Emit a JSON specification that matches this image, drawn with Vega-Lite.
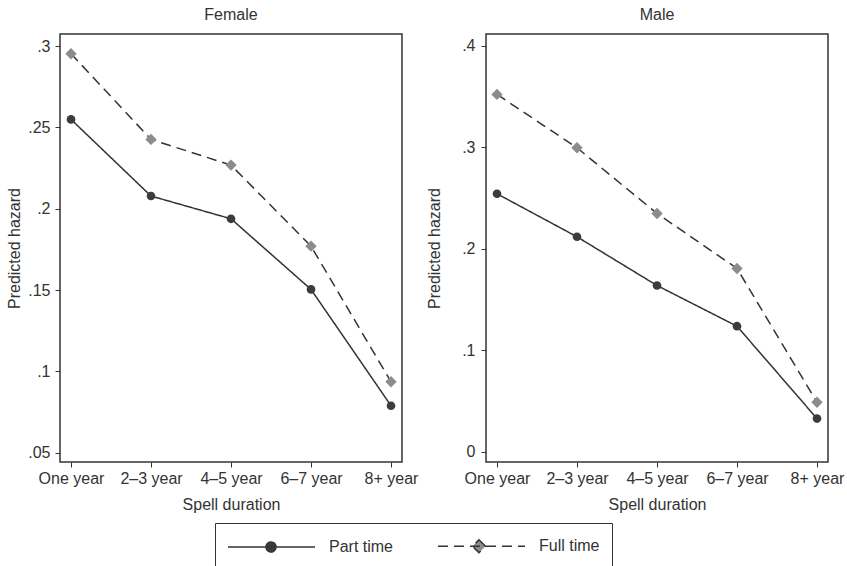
{
  "$schema": "https://vega.github.io/schema/vega-lite/v6.json",
  "padding": {"left": 6, "top": 6, "right": 0, "bottom": 0},
  "background": "white",
  "data": {
    "values": [
      {"sex": "Female", "duration": "One year", "status": "Part time", "hazard": 0.2549},
      {"sex": "Female", "duration": "2–3 year", "status": "Part time", "hazard": 0.2078},
      {"sex": "Female", "duration": "4–5 year", "status": "Part time", "hazard": 0.1938},
      {"sex": "Female", "duration": "6–7 year", "status": "Part time", "hazard": 0.1504},
      {"sex": "Female", "duration": "8+ year", "status": "Part time", "hazard": 0.0789},
      {"sex": "Female", "duration": "One year", "status": "Full time", "hazard": 0.2953},
      {"sex": "Female", "duration": "2–3 year", "status": "Full time", "hazard": 0.2426},
      {"sex": "Female", "duration": "4–5 year", "status": "Full time", "hazard": 0.2268},
      {"sex": "Female", "duration": "6–7 year", "status": "Full time", "hazard": 0.177},
      {"sex": "Female", "duration": "8+ year", "status": "Full time", "hazard": 0.0936},
      {"sex": "Male", "duration": "One year", "status": "Part time", "hazard": 0.2544},
      {"sex": "Male", "duration": "2–3 year", "status": "Part time", "hazard": 0.212},
      {"sex": "Male", "duration": "4–5 year", "status": "Part time", "hazard": 0.164},
      {"sex": "Male", "duration": "6–7 year", "status": "Part time", "hazard": 0.1239},
      {"sex": "Male", "duration": "8+ year", "status": "Part time", "hazard": 0.0329},
      {"sex": "Male", "duration": "One year", "status": "Full time", "hazard": 0.3523},
      {"sex": "Male", "duration": "2–3 year", "status": "Full time", "hazard": 0.2997},
      {"sex": "Male", "duration": "4–5 year", "status": "Full time", "hazard": 0.235},
      {"sex": "Male", "duration": "6–7 year", "status": "Full time", "hazard": 0.1808},
      {"sex": "Male", "duration": "8+ year", "status": "Full time", "hazard": 0.049}
    ]
  },
  "spacing": 6,
  "hconcat": [
    {
      "width": 342,
      "height": 428,
      "title": "Female",
      "transform": [{"filter": "datum.sex === 'Female'"}],
      "encoding": {
        "x": {
          "field": "duration", "type": "ordinal",
          "sort": ["One year", "2–3 year", "4–5 year", "6–7 year", "8+ year"],
          "scale": {"type": "point", "padding": 0.1375},
          "axis": {"title": "Spell duration", "labelAngle": 0}
        },
        "y": {
          "field": "hazard", "type": "quantitative",
          "scale": {"domain": [0.0443, 0.3074], "nice": false, "zero": false},
          "axis": {
            "title": "Predicted hazard",
            "values": [0.05, 0.1, 0.15, 0.2, 0.25, 0.3],
            "labelExpr": "replace(format(datum.value, '.2~f'), '0.', '.')",
            "titlePadding": 5
          }
        }
      },
      "layer": [
        {
          "mark": {"type": "line", "color": "#333333", "strokeWidth": 1.5},
          "encoding": {
            "strokeDash": {
              "field": "status", "type": "nominal",
              "scale": {"domain": ["Part time", "Full time"], "range": [[1, 0], [10, 6]]},
              "legend": {
                "orient": "none", "legendX": 155, "legendY": 489,
                "direction": "horizontal", "title": null,
                "strokeColor": "#333333", "padding": 12,
                "symbolSize": 400, "symbolStrokeWidth": 1.5, "symbolStrokeColor": "#333333",
                "labelOffset": 80, "columnPadding": 41,
                "labelFontSize": 16, "labelFont": "Liberation Sans", "labelColor": "#333333",
                "labelExpr": "datum.label === 'Full time' ? datum.label + '      ' : datum.label",
                "encode": {
                  "symbols": {
                    "update": {
                      "shape": {"signal": "datum.value === 'Part time' ? 'M-1,0L7.7,0M3.8,0A0.5,0.5,0,1,1,2.8,0A0.5,0.5,0,1,1,3.8,0Z' : 'M-1,0L7.7,0M3.1,-0.65L3.75,0L3.1,0.65L2.45,0Z'"},
                      "fill": {"signal": "datum.value === 'Part time' ? '#3c3c3c' : '#8c8c8c'"},
                      "stroke": {"value": "#333333"}
                    }
                  }
                }
              }
            }
          }
        },
        {
          "mark": {"type": "point", "filled": true, "opacity": 1},
          "encoding": {
            "shape": {"condition": {"test": "datum.status === 'Part time'", "value": "circle"}, "value": "diamond"},
            "color": {"condition": {"test": "datum.status === 'Part time'", "value": "#3c3c3c"}, "value": "#8c8c8c"},
            "size": {"condition": {"test": "datum.status === 'Part time'", "value": 75}, "value": 130}
          }
        }
      ]
    },
    {
      "width": 342,
      "height": 428,
      "title": "Male",
      "transform": [{"filter": "datum.sex === 'Male'"}],
      "encoding": {
        "x": {
          "field": "duration", "type": "ordinal",
          "sort": ["One year", "2–3 year", "4–5 year", "6–7 year", "8+ year"],
          "scale": {"type": "point", "padding": 0.1375},
          "axis": {"title": "Spell duration", "labelAngle": 0}
        },
        "y": {
          "field": "hazard", "type": "quantitative",
          "scale": {"domain": [-0.0099, 0.4118], "nice": false, "zero": false},
          "axis": {
            "title": "Predicted hazard",
            "values": [0, 0.1, 0.2, 0.3, 0.4],
            "labelExpr": "replace(format(datum.value, '.2~f'), '0.', '.')",
            "labelPadding": 6,
            "titlePadding": 19
          }
        }
      },
      "layer": [
        {
          "mark": {"type": "line", "color": "#333333", "strokeWidth": 1.5},
          "encoding": {
            "strokeDash": {
              "field": "status", "type": "nominal",
              "scale": {"domain": ["Part time", "Full time"], "range": [[1, 0], [10, 6]]}
            }
          }
        },
        {
          "mark": {"type": "point", "filled": true, "opacity": 1},
          "encoding": {
            "shape": {"condition": {"test": "datum.status === 'Part time'", "value": "circle"}, "value": "diamond"},
            "color": {"condition": {"test": "datum.status === 'Part time'", "value": "#3c3c3c"}, "value": "#8c8c8c"},
            "size": {"condition": {"test": "datum.status === 'Part time'", "value": 75}, "value": 130}
          }
        }
      ]
    }
  ],
  "config": {
    "font": "Liberation Sans",
    "view": {"stroke": "#333333", "strokeWidth": 1.5},
    "title": {"fontSize": 16, "fontWeight": "normal", "font": "Liberation Sans", "color": "#333333", "offset": 11, "anchor": "middle"},
    "axis": {
      "domain": false, "grid": false,
      "tickSize": 5, "tickColor": "#333333", "tickWidth": 1,
      "labelFont": "Liberation Sans", "labelFontSize": 16, "labelColor": "#333333",
      "titleFont": "Liberation Sans", "titleFontSize": 16, "titleFontWeight": "normal", "titleColor": "#333333"
    },
    "axisX": {"labelPadding": 3, "titlePadding": 10},
    "axisY": {"labelPadding": 5}
  }
}
